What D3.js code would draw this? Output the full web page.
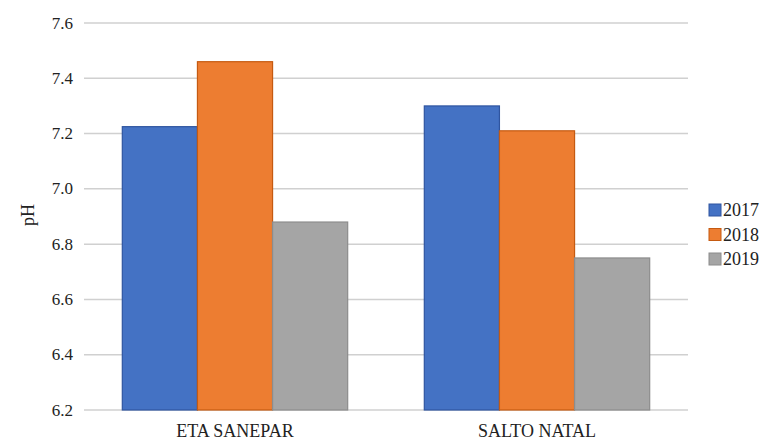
<!DOCTYPE html>
<html>
<head>
<meta charset="utf-8">
<script src="https://cdn.jsdelivr.net/npm/d3@7"></script>
<style>
  body { margin: 0; background: #fff; }
  text { fill: #222; }
</style>
</head>
<body>
<svg id="chart"></svg>
<script>
const WIDTH = 776;
const HEIGHT = 443;
const FONT = "'Liberation Serif', 'DejaVu Serif', serif";

const categories = ["ETA SANEPAR", "SALTO NATAL"];
const years = ["2017", "2018", "2019"];
const values2017 = [7.225, 7.3];
const values2018 = [7.46, 7.21];
const values2019 = [6.88, 6.75];
const yTicks = [6.2, 6.4, 6.6, 6.8, 7.0, 7.2, 7.4, 7.6];

const series = [values2017, values2018, values2019];
const fills = ["#4472C4", "#ED7D31", "#A5A5A5"];
const strokes = ["#2F55A0", "#C55A11", "#8C8C8C"];

const margin = { top: 23, right: 88, bottom: 33, left: 84 };

const svg = d3.select("#chart").attr("width", WIDTH).attr("height", HEIGHT)
  .attr("font-family", FONT);

const x0 = d3.scaleBand().domain(categories).range([margin.left, WIDTH - margin.right]);
const x1 = d3.scaleBand().domain(years).range([0, x0.bandwidth()]).paddingOuter(0.51);
const y = d3.scaleLinear().domain([6.2, 7.6]).range([HEIGHT - margin.bottom, margin.top]);

// gridlines
svg.append("g")
  .attr("class", "grid")
  .selectAll("line")
  .data(yTicks)
  .join("line")
  .attr("x1", margin.left)
  .attr("x2", WIDTH - margin.right)
  .attr("y1", (d) => y(d))
  .attr("y2", (d) => y(d))
  .attr("stroke", "#d0d0d0")
  .attr("stroke-width", 1.5);

// y tick labels
svg.append("g")
  .attr("class", "y-labels")
  .selectAll("text")
  .data(yTicks)
  .join("text")
  .attr("x", 73)
  .attr("y", (d) => y(d))
  .attr("text-anchor", "end")
  .attr("dominant-baseline", "central")
  .attr("font-family", FONT)
  .attr("font-size", 17)
  .text((d) => d.toFixed(1));

// bars
const rows = [];
categories.forEach((c, ci) => {
  years.forEach((yr, si) => rows.push({ cat: c, year: yr, si, value: series[si][ci] }));
});

svg.append("g")
  .attr("class", "bars")
  .selectAll("rect")
  .data(rows)
  .join("rect")
  .attr("x", (d) => x0(d.cat) + x1(d.year))
  .attr("width", x1.bandwidth())
  .attr("y", (d) => y(d.value))
  .attr("height", (d) => y(6.2) - y(d.value))
  .attr("fill", (d) => fills[d.si])
  .attr("stroke", (d) => strokes[d.si])
  .attr("stroke-width", 1.2);

// category labels
svg.append("g")
  .attr("class", "x-labels")
  .selectAll("text")
  .data(categories)
  .join("text")
  .attr("x", (d) => x0(d) + x0.bandwidth() / 2)
  .attr("y", 437)
  .attr("text-anchor", "middle")
  .attr("font-family", FONT)
  .attr("font-size", 18)
  .text((d) => d);

// y axis title
svg.append("text")
  .attr("transform", "translate(28, 215) rotate(-90)")
  .attr("text-anchor", "middle")
  .attr("dominant-baseline", "central")
  .attr("font-family", FONT)
  .attr("font-size", 18)
  .text("pH");

// legend
svg.append("g")
  .attr("class", "legend")
  .attr("transform", "translate(709, 210)")
  .selectAll(".item")
  .data(years)
  .join((enter) => {
    const g = enter.append("g")
      .attr("class", "item")
      .attr("transform", (_, i) => `translate(0, ${i * 24.5})`);
    g.append("rect")
      .attr("x", 0)
      .attr("y", -6)
      .attr("width", 12)
      .attr("height", 12)
      .attr("fill", (_, i) => fills[i])
      .attr("stroke", (_, i) => strokes[i]);
    g.append("text")
      .attr("x", 14)
      .attr("y", 0)
      .attr("dominant-baseline", "central")
      .attr("font-family", FONT)
      .attr("font-size", 18)
      .text((d) => d);
    return g;
  });
</script>
</body>
</html>
